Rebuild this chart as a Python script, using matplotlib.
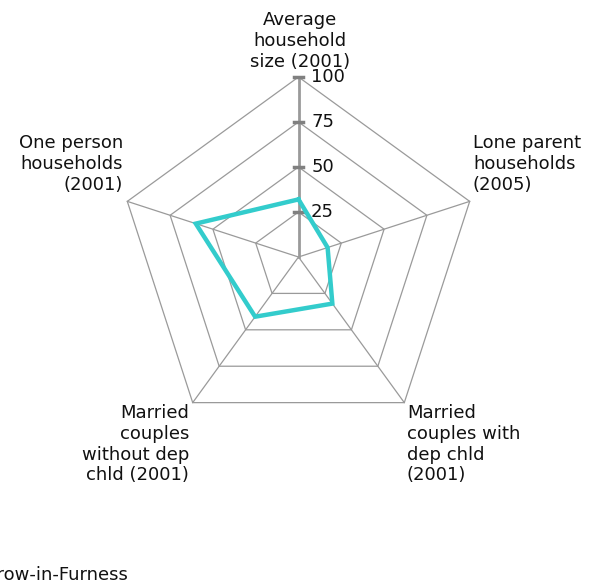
import numpy as np
import matplotlib
matplotlib.use("Agg")
import matplotlib.pyplot as plt

# Radar chart data (percent of scale)
categories = [
    "Average\nhousehold\nsize (2001)",
    "Lone parent\nhouseholds\n(2005)",
    "Married\ncouples with\ndep chld\n(2001)",
    "Married\ncouples\nwithout dep\nchld (2001)",
    "One person\nhouseholds\n(2001)",
]
values = [32, 17, 32, 41, 60]
ring_levels = [25, 50, 75, 100]
ring_labels = ["25", "50", "75", "100"]
series_name = "Barrow-in-Furness"

W, H = 590, 582
CX, CY = 298.5, 257   # centre in pixels
SCALE = 1.8           # pixels per unit

fig = plt.figure(figsize=(W / 100, H / 100), dpi=100)
ax = fig.add_axes([0, 0, 1, 1])
ax.set_xlim(-CX / SCALE, (W - CX) / SCALE)
ax.set_ylim(-(H - CY) / SCALE, CY / SCALE)
ax.axis("off")

n = len(categories)
angles = np.pi / 2 - 2 * np.pi * np.arange(n) / n


def to_xy(r):
    r = np.asarray(r, dtype=float)
    return r * np.cos(angles), r * np.sin(angles)


grid_col = "#9a9a9a"

# rings
for lev in ring_levels:
    x, y = to_xy([lev] * n)
    ax.plot(np.append(x, x[0]), np.append(y, y[0]), color=grid_col, lw=0.9, zorder=1)

# spokes
ox, oy = to_xy([100] * n)
for i in range(n):
    lw = 2.0 if i == 0 else 0.9
    ax.plot([0, ox[i]], [0, oy[i]], color=grid_col, lw=lw, zorder=1)

# tick marks + labels on the top axis
for lev, lab in zip(ring_levels, ring_labels):
    ax.plot([-2.5, 2.5], [lev, lev], color="#808080", lw=2.5, zorder=2)
    ax.text(7, lev, lab, fontsize=13, ha="left", va="center", color="#111111", zorder=4)

# data polygon
dx, dy = to_xy(values)
ax.plot(np.append(dx, dx[0]), np.append(dy, dy[0]), color="#33cccc", lw=3.2,
        solid_joinstyle="miter", zorder=3)


def px(x, y):
    return x / W, 1 - y / H


label_kw = dict(fontsize=13, color="#111111", linespacing=1.2)
fig.text(*px(300, 11), categories[0], ha="center", va="top", multialignment="center", **label_kw)
fig.text(*px(473, 134), categories[1], ha="left", va="top", multialignment="left", **label_kw)
fig.text(*px(407, 404), categories[2], ha="left", va="top", multialignment="left", **label_kw)
fig.text(*px(189, 404), categories[3], ha="right", va="top", multialignment="right", **label_kw)
fig.text(*px(123, 134), categories[4], ha="right", va="top", multialignment="right", **label_kw)

# legend text, cut off by the left edge
fig.text(*px(128, 575), series_name, ha="right", va="center", **label_kw)

fig.savefig("out.png", dpi=100, facecolor="white")
